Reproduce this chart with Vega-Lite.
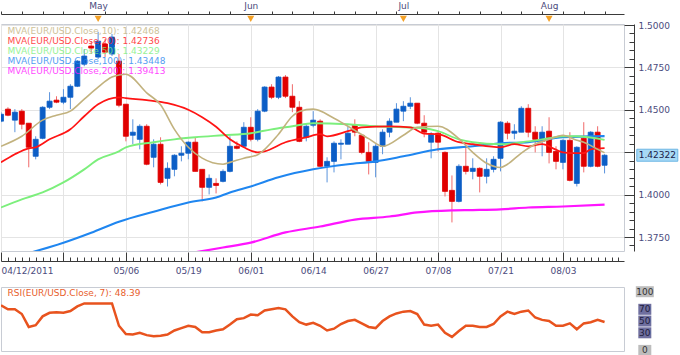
{
  "$schema": "https://vega.github.io/schema/vega-lite/v6.json",
  "padding": 0,
  "background": "white",
  "spacing": 4,
  "resolve": {"scale": {"y": "independent"}},
  "config": {
    "view": {"stroke": "#c8ccd4"},
    "font": "DejaVu Sans",
    "scale": {"continuousPadding": 0},
    "axis": {"labelFont": "DejaVu Sans", "labelFontSize": 9, "labelColor": "#4b4b7d", "domainColor": "#3a3a3a", "tickColor": "#3a3a3a", "gridColor": "#e4e4e4"}
  },
  "datasets": {
    "candles": [
      {"i":0,"o":1.4433,"h":1.4486,"l":1.4427,"c":1.4474},
      {"i":1,"o":1.4504,"h":1.4515,"l":1.4462,"c":1.4468},
      {"i":2,"o":1.4439,"h":1.4504,"l":1.4368,"c":1.4486},
      {"i":3,"o":1.4492,"h":1.4504,"l":1.4385,"c":1.4415},
      {"i":4,"o":1.4421,"h":1.4421,"l":1.4161,"c":1.4279},
      {"i":5,"o":1.4226,"h":1.4344,"l":1.4208,"c":1.4326},
      {"i":6,"o":1.4332,"h":1.4521,"l":1.4326,"c":1.4515},
      {"i":7,"o":1.4515,"h":1.4604,"l":1.4504,"c":1.4551},
      {"i":8,"o":1.4557,"h":1.4580,"l":1.4539,"c":1.4545},
      {"i":9,"o":1.4545,"h":1.4622,"l":1.4533,"c":1.4574},
      {"i":10,"o":1.4574,"h":1.4651,"l":1.4504,"c":1.4639},
      {"i":11,"o":1.4639,"h":1.4793,"l":1.4634,"c":1.4787},
      {"i":12,"o":1.4769,"h":1.4858,"l":1.4757,"c":1.4817},
      {"i":13,"o":1.4876,"h":1.4905,"l":1.4829,"c":1.4864},
      {"i":14,"o":1.4811,"h":1.4959,"l":1.4799,"c":1.4905},
      {"i":15,"o":1.4888,"h":1.4917,"l":1.4811,"c":1.4840},
      {"i":16,"o":1.4829,"h":1.4947,"l":1.4817,"c":1.4929},
      {"i":17,"o":1.4787,"h":1.4829,"l":1.4515,"c":1.4527},
      {"i":18,"o":1.4533,"h":1.4533,"l":1.4314,"c":1.4344},
      {"i":19,"o":1.4350,"h":1.4444,"l":1.4297,"c":1.4368},
      {"i":20,"o":1.4326,"h":1.4415,"l":1.4267,"c":1.4403},
      {"i":21,"o":1.4403,"h":1.4415,"l":1.4173,"c":1.4179},
      {"i":22,"o":1.4220,"h":1.4326,"l":1.4161,"c":1.4297},
      {"i":23,"o":1.4297,"h":1.4338,"l":1.4060,"c":1.4072},
      {"i":24,"o":1.4096,"h":1.4190,"l":1.4048,"c":1.4155},
      {"i":25,"o":1.4149,"h":1.4238,"l":1.4108,"c":1.4232},
      {"i":26,"o":1.4232,"h":1.4285,"l":1.4196,"c":1.4244},
      {"i":27,"o":1.4244,"h":1.4314,"l":1.4208,"c":1.4309},
      {"i":28,"o":1.4309,"h":1.4338,"l":1.4137,"c":1.4137},
      {"i":29,"o":1.4149,"h":1.4149,"l":1.3960,"c":1.4043},
      {"i":30,"o":1.4043,"h":1.4119,"l":1.4001,"c":1.4096},
      {"i":31,"o":1.4066,"h":1.4096,"l":1.4007,"c":1.4054},
      {"i":32,"o":1.4078,"h":1.4149,"l":1.4072,"c":1.4137},
      {"i":33,"o":1.4137,"h":1.4344,"l":1.4131,"c":1.4285},
      {"i":34,"o":1.4285,"h":1.4314,"l":1.4267,"c":1.4273},
      {"i":35,"o":1.4285,"h":1.4427,"l":1.4279,"c":1.4397},
      {"i":36,"o":1.4397,"h":1.4456,"l":1.4314,"c":1.4326},
      {"i":37,"o":1.4326,"h":1.4504,"l":1.4314,"c":1.4492},
      {"i":38,"o":1.4492,"h":1.4639,"l":1.4486,"c":1.4634},
      {"i":39,"o":1.4634,"h":1.4651,"l":1.4563,"c":1.4574},
      {"i":40,"o":1.4574,"h":1.4699,"l":1.4563,"c":1.4693},
      {"i":41,"o":1.4693,"h":1.4705,"l":1.4569,"c":1.4580},
      {"i":42,"o":1.4580,"h":1.4651,"l":1.4486,"c":1.4515},
      {"i":43,"o":1.4515,"h":1.4551,"l":1.4309,"c":1.4314},
      {"i":44,"o":1.4338,"h":1.4421,"l":1.4314,"c":1.4403},
      {"i":45,"o":1.4409,"h":1.4492,"l":1.4397,"c":1.4439},
      {"i":46,"o":1.4433,"h":1.4444,"l":1.4161,"c":1.4167},
      {"i":47,"o":1.4167,"h":1.4220,"l":1.4072,"c":1.4196},
      {"i":48,"o":1.4196,"h":1.4314,"l":1.4131,"c":1.4303},
      {"i":49,"o":1.4297,"h":1.4326,"l":1.4208,"c":1.4303},
      {"i":50,"o":1.4297,"h":1.4403,"l":1.4297,"c":1.4362},
      {"i":51,"o":1.4409,"h":1.4444,"l":1.4344,"c":1.4368},
      {"i":52,"o":1.4350,"h":1.4350,"l":1.4238,"c":1.4249},
      {"i":53,"o":1.4249,"h":1.4309,"l":1.4119,"c":1.4196},
      {"i":54,"o":1.4190,"h":1.4297,"l":1.4102,"c":1.4285},
      {"i":55,"o":1.4285,"h":1.4385,"l":1.4238,"c":1.4368},
      {"i":56,"o":1.4368,"h":1.4450,"l":1.4338,"c":1.4433},
      {"i":57,"o":1.4427,"h":1.4539,"l":1.4427,"c":1.4504},
      {"i":58,"o":1.4492,"h":1.4551,"l":1.4433,"c":1.4521},
      {"i":59,"o":1.4521,"h":1.4574,"l":1.4504,"c":1.4539},
      {"i":60,"o":1.4539,"h":1.4539,"l":1.4415,"c":1.4421},
      {"i":61,"o":1.4421,"h":1.4468,"l":1.4338,"c":1.4368},
      {"i":62,"o":1.4309,"h":1.4368,"l":1.4214,"c":1.4356},
      {"i":63,"o":1.4362,"h":1.4368,"l":1.4255,"c":1.4309},
      {"i":64,"o":1.4249,"h":1.4255,"l":1.3989,"c":1.4019},
      {"i":65,"o":1.4025,"h":1.4113,"l":1.3836,"c":1.3960},
      {"i":66,"o":1.3960,"h":1.4179,"l":1.3954,"c":1.4167},
      {"i":67,"o":1.4167,"h":1.4279,"l":1.4119,"c":1.4137},
      {"i":68,"o":1.4137,"h":1.4214,"l":1.4090,"c":1.4155},
      {"i":69,"o":1.4155,"h":1.4161,"l":1.4013,"c":1.4108},
      {"i":70,"o":1.4108,"h":1.4214,"l":1.4066,"c":1.4149},
      {"i":71,"o":1.4149,"h":1.4226,"l":1.4131,"c":1.4208},
      {"i":72,"o":1.4214,"h":1.4433,"l":1.4137,"c":1.4427},
      {"i":73,"o":1.4421,"h":1.4433,"l":1.4326,"c":1.4362},
      {"i":74,"o":1.4362,"h":1.4415,"l":1.4326,"c":1.4374},
      {"i":75,"o":1.4368,"h":1.4521,"l":1.4368,"c":1.4509},
      {"i":76,"o":1.4509,"h":1.4533,"l":1.4338,"c":1.4368},
      {"i":77,"o":1.4368,"h":1.4403,"l":1.4249,"c":1.4326},
      {"i":78,"o":1.4314,"h":1.4403,"l":1.4226,"c":1.4368},
      {"i":79,"o":1.4374,"h":1.4456,"l":1.4184,"c":1.4249},
      {"i":80,"o":1.4255,"h":1.4285,"l":1.4149,"c":1.4196},
      {"i":81,"o":1.4190,"h":1.4326,"l":1.4149,"c":1.4320},
      {"i":82,"o":1.4320,"h":1.4368,"l":1.4078,"c":1.4084},
      {"i":83,"o":1.4066,"h":1.4285,"l":1.4048,"c":1.4279},
      {"i":84,"o":1.4332,"h":1.4427,"l":1.4131,"c":1.4167},
      {"i":85,"o":1.4167,"h":1.4374,"l":1.4161,"c":1.4368},
      {"i":86,"o":1.4368,"h":1.4403,"l":1.4161,"c":1.4167},
      {"i":87,"o":1.4173,"h":1.4238,"l":1.4125,"c":1.42322}
    ],
    "ma": [
      {"s":"MA200","i":28,"v":1.3660},{"s":"MA200","i":32,"v":1.3688},{"s":"MA200","i":36,"v":1.3717},{"s":"MA200","i":41,"v":1.3777},{"s":"MA200","i":46,"v":1.3812},{"s":"MA200","i":51,"v":1.3853},{"s":"MA200","i":56,"v":1.3871},{"s":"MA200","i":60,"v":1.3895},{"s":"MA200","i":65,"v":1.3907},{"s":"MA200","i":68,"v":1.3909},{"s":"MA200","i":72,"v":1.3913},{"s":"MA200","i":76,"v":1.3924},{"s":"MA200","i":81,"v":1.3930},{"s":"MA200","i":87,"v":1.39413},
      {"s":"MA100","i":4,"v":1.3655},{"s":"MA100","i":9,"v":1.3716},{"s":"MA100","i":13,"v":1.3775},{"s":"MA100","i":17,"v":1.3840},{"s":"MA100","i":22,"v":1.3899},{"s":"MA100","i":27,"v":1.3954},{"s":"MA100","i":31,"v":1.3983},{"s":"MA100","i":33,"v":1.4013},{"s":"MA100","i":36,"v":1.4048},{"s":"MA100","i":40,"v":1.4102},{"s":"MA100","i":45,"v":1.4149},{"s":"MA100","i":50,"v":1.4179},{"s":"MA100","i":54,"v":1.4196},{"s":"MA100","i":58,"v":1.4226},{"s":"MA100","i":63,"v":1.4267},{"s":"MA100","i":68,"v":1.4285},{"s":"MA100","i":72,"v":1.4303},{"s":"MA100","i":76,"v":1.4309},{"s":"MA100","i":81,"v":1.4338},{"s":"MA100","i":87,"v":1.43448},
      {"s":"MA50","i":0,"v":1.3924},{"s":"MA50","i":3,"v":1.3972},{"s":"MA50","i":6,"v":1.4013},{"s":"MA50","i":9,"v":1.4072},{"s":"MA50","i":12,"v":1.4149},{"s":"MA50","i":14,"v":1.4208},{"s":"MA50","i":17,"v":1.4255},{"s":"MA50","i":18,"v":1.4279},{"s":"MA50","i":22,"v":1.4309},{"s":"MA50","i":25,"v":1.4326},{"s":"MA50","i":28,"v":1.4338},{"s":"MA50","i":32,"v":1.4350},{"s":"MA50","i":36,"v":1.4362},{"s":"MA50","i":39,"v":1.4385},{"s":"MA50","i":42,"v":1.4403},{"s":"MA50","i":45,"v":1.4421},{"s":"MA50","i":50,"v":1.4415},{"s":"MA50","i":54,"v":1.4403},{"s":"MA50","i":58,"v":1.4397},{"s":"MA50","i":61,"v":1.4391},{"s":"MA50","i":63,"v":1.4374},{"s":"MA50","i":66,"v":1.4326},{"s":"MA50","i":68,"v":1.4309},{"s":"MA50","i":72,"v":1.4297},{"s":"MA50","i":76,"v":1.4314},{"s":"MA50","i":79,"v":1.4332},{"s":"MA50","i":81,"v":1.4344},{"s":"MA50","i":83,"v":1.4344},{"s":"MA50","i":87,"v":1.43229},
      {"s":"MA20","i":0,"v":1.4190},{"s":"MA20","i":2,"v":1.4238},{"s":"MA20","i":4,"v":1.4273},{"s":"MA20","i":5,"v":1.4279},{"s":"MA20","i":7,"v":1.4326},{"s":"MA20","i":10,"v":1.4385},{"s":"MA20","i":12,"v":1.4462},{"s":"MA20","i":14,"v":1.4533},{"s":"MA20","i":17,"v":1.4574},{"s":"MA20","i":18,"v":1.4569},{"s":"MA20","i":21,"v":1.4557},{"s":"MA20","i":24,"v":1.4539},{"s":"MA20","i":27,"v":1.4500},{"s":"MA20","i":29,"v":1.4456},{"s":"MA20","i":31,"v":1.4400},{"s":"MA20","i":33,"v":1.4326},{"s":"MA20","i":35,"v":1.4279},{"s":"MA20","i":37,"v":1.4249},{"s":"MA20","i":38,"v":1.4255},{"s":"MA20","i":41,"v":1.4309},{"s":"MA20","i":44,"v":1.4338},{"s":"MA20","i":46,"v":1.4356},{"s":"MA20","i":47,"v":1.4344},{"s":"MA20","i":50,"v":1.4374},{"s":"MA20","i":52,"v":1.4397},{"s":"MA20","i":56,"v":1.4403},{"s":"MA20","i":59,"v":1.4397},{"s":"MA20","i":61,"v":1.4360},{"s":"MA20","i":63,"v":1.4356},{"s":"MA20","i":66,"v":1.4309},{"s":"MA20","i":68,"v":1.4297},{"s":"MA20","i":72,"v":1.4279},{"s":"MA20","i":74,"v":1.4297},{"s":"MA20","i":76,"v":1.4285},{"s":"MA20","i":78,"v":1.4297},{"s":"MA20","i":80,"v":1.4265},{"s":"MA20","i":81,"v":1.4249},{"s":"MA20","i":83,"v":1.4244},{"s":"MA20","i":84,"v":1.4244},{"s":"MA20","i":85,"v":1.4267},{"s":"MA20","i":87,"v":1.42736},
      {"s":"MA10","i":0,"v":1.4285},{"s":"MA10","i":3,"v":1.4344},{"s":"MA10","i":6,"v":1.4439},{"s":"MA10","i":8,"v":1.4468},{"s":"MA10","i":10,"v":1.4492},{"s":"MA10","i":12,"v":1.4563},{"s":"MA10","i":14,"v":1.4634},{"s":"MA10","i":16,"v":1.4693},{"s":"MA10","i":17,"v":1.4705},{"s":"MA10","i":18,"v":1.4710},{"s":"MA10","i":21,"v":1.4600},{"s":"MA10","i":23,"v":1.4530},{"s":"MA10","i":25,"v":1.4385},{"s":"MA10","i":27,"v":1.4279},{"s":"MA10","i":29,"v":1.4215},{"s":"MA10","i":32,"v":1.4179},{"s":"MA10","i":33,"v":1.4190},{"s":"MA10","i":35,"v":1.4215},{"s":"MA10","i":37,"v":1.4235},{"s":"MA10","i":40,"v":1.4356},{"s":"MA10","i":42,"v":1.4462},{"s":"MA10","i":43,"v":1.4490},{"s":"MA10","i":45,"v":1.4504},{"s":"MA10","i":48,"v":1.4450},{"s":"MA10","i":50,"v":1.4403},{"s":"MA10","i":53,"v":1.4330},{"s":"MA10","i":55,"v":1.4285},{"s":"MA10","i":58,"v":1.4350},{"s":"MA10","i":60,"v":1.4397},{"s":"MA10","i":63,"v":1.4403},{"s":"MA10","i":66,"v":1.4330},{"s":"MA10","i":68,"v":1.4249},{"s":"MA10","i":70,"v":1.4185},{"s":"MA10","i":72,"v":1.4160},{"s":"MA10","i":73,"v":1.4179},{"s":"MA10","i":75,"v":1.4245},{"s":"MA10","i":77,"v":1.4297},{"s":"MA10","i":79,"v":1.4326},{"s":"MA10","i":81,"v":1.4350},{"s":"MA10","i":83,"v":1.4320},{"s":"MA10","i":84,"v":1.4309},{"s":"MA10","i":86,"v":1.4267},{"s":"MA10","i":87,"v":1.42468}
    ],
    "rsi": [
      {"i":0,"r":77},{"i":1,"r":70},{"i":2,"r":70},{"i":3,"r":62},{"i":4,"r":40},{"i":5,"r":43},{"i":6,"r":58},{"i":7,"r":64},{"i":8,"r":65},{"i":9,"r":64},
      {"i":10,"r":67},{"i":11,"r":75},{"i":12,"r":80},{"i":13,"r":80},{"i":14,"r":80},{"i":15,"r":80},{"i":16,"r":80},{"i":17,"r":42},{"i":18,"r":28},{"i":19,"r":27},
      {"i":20,"r":30},{"i":21,"r":26},{"i":22,"r":24},{"i":23,"r":25},{"i":24,"r":27},{"i":25,"r":34},{"i":26,"r":38},{"i":27,"r":42},{"i":28,"r":40},{"i":29,"r":31},
      {"i":30,"r":31},{"i":31,"r":34},{"i":32,"r":36},{"i":33,"r":44},{"i":34,"r":53},{"i":35,"r":55},{"i":36,"r":61},{"i":37,"r":60},{"i":38,"r":68},{"i":39,"r":70},
      {"i":40,"r":72},{"i":41,"r":70},{"i":42,"r":58},{"i":43,"r":48},{"i":44,"r":44},{"i":45,"r":47},{"i":46,"r":42},{"i":47,"r":34},{"i":48,"r":37},{"i":49,"r":45},
      {"i":50,"r":50},{"i":51,"r":52},{"i":52,"r":46},{"i":53,"r":40},{"i":54,"r":38},{"i":55,"r":50},{"i":56,"r":58},{"i":57,"r":63},{"i":58,"r":66},{"i":59,"r":67},
      {"i":60,"r":62},{"i":61,"r":44},{"i":62,"r":42},{"i":63,"r":44},{"i":64,"r":30},{"i":65,"r":23},{"i":66,"r":33},{"i":67,"r":42},{"i":68,"r":42},{"i":69,"r":40},
      {"i":70,"r":40},{"i":71,"r":45},{"i":72,"r":58},{"i":73,"r":66},{"i":74,"r":62},{"i":75,"r":66},{"i":76,"r":68},{"i":77,"r":56},{"i":78,"r":52},{"i":79,"r":50},
      {"i":80,"r":42},{"i":81,"r":42},{"i":82,"r":46},{"i":83,"r":36},{"i":84,"r":46},{"i":85,"r":48},{"i":86,"r":52},{"i":87,"r":48.39}
    ],
    "legend": [
      {"row":0,"s":"MA10","label":"MVA(EUR/USD.Close,10): 1.42468"},
      {"row":1,"s":"MA20","label":"MVA(EUR/USD.Close,20): 1.42736"},
      {"row":2,"s":"MA50","label":"MVA(EUR/USD.Close,50): 1.43229"},
      {"row":3,"s":"MA100","label":"MVA(EUR/USD.Close,100): 1.43448"},
      {"row":4,"s":"MA200","label":"MVA(EUR/USD.Close,200): 1.39413"}
    ],
    "months": [{"i":14,"m":"May"},{"i":36,"m":"Jun"},{"i":58,"m":"Jul"},{"i":79,"m":"Aug"}],
    "levels": [{"v":100},{"v":70},{"v":50},{"v":30},{"v":0}],
    "rsilabel": [{"label":"RSI(EUR/USD.Close, 7): 48.39"}]
  },
  "vconcat": [
    {
      "width": 623,
      "height": 227,
      "resolve": {"scale": {"y": "independent"}, "axis": {"x": "independent", "y": "independent"}},
      "layer": [
        {
          "data": {"name": "candles"},
          "mark": {"type": "rule", "strokeWidth": 1, "clip": true},
          "encoding": {
            "x": {"field": "i", "type": "quantitative", "title": null,
              "scale": {"domain": [0, 89.8], "nice": false, "zero": false, "padding": 0},
              "axis": {
                "orient": "bottom", "offset": 10, "title": null,
                "values": [0,1,2,3,4,5,6,7,8,9,10,11,12,13,14,15,16,17,18,19,20,21,22,23,24,25,26,27,28,29,30,31,32,33,34,35,36,37,38,39,40,41,42,43,44,45,46,47,48,49,50,51,52,53,54,55,56,57,58,59,60,61,62,63,64,65,66,67,68,69,70,71,72,73,74,75,76,77,78,79,80,81,82,83,84,85,86,87,88,89],
                "tickSize": {"condition": {"test": "datum.value % 9 === 0", "value": -9}, "value": -4},
                "labelPadding": 14,
                "labelAlign": {"condition": {"test": "datum.value === 0", "value": "left"}, "value": "center"},
                "labelOverlap": false,
                "labelExpr": "datum.value===0?'04/12/2011':datum.value===18?'05/06':datum.value===27?'05/19':datum.value===36?'06/01':datum.value===45?'06/14':datum.value===54?'06/27':datum.value===63?'07/08':datum.value===72?'07/21':datum.value===81?'08/03':''",
                "grid": true,
                "gridOpacity": {"condition": {"test": "datum.value % 9 === 0", "value": 1}, "value": 0}
              }},
            "y": {"field": "l", "type": "quantitative", "title": null,
              "scale": {"domain": [1.36675, 1.5006], "nice": false, "zero": false, "padding": 0},
              "axis": {
                "orient": "right", "offset": 10, "title": null,
                "values": [1.37,1.375,1.38,1.385,1.39,1.395,1.4,1.405,1.41,1.415,1.42,1.425,1.43,1.435,1.44,1.445,1.45,1.455,1.46,1.465,1.47,1.475,1.48,1.485,1.49,1.495,1.5],
                "tickSize": {"condition": {"test": "abs(datum.value*40-round(datum.value*40))<0.01", "value": -10}, "value": -5},
                "labelPadding": 14,
                "labelOverlap": false,
                "labelExpr": "abs(datum.value*40-round(datum.value*40))<0.01 && abs(datum.value-1.425)>0.001 ? format(datum.value,'.4f') : ''",
                "grid": true,
                "gridOpacity": {"condition": {"test": "abs(datum.value*40-round(datum.value*40))<0.01", "value": 1}, "value": 0}
              }},
            "y2": {"field": "h"},
            "color": {"condition": {"test": "datum.c >= datum.o", "value": "#5a93dc"}, "value": "#f06a6a"}
          }
        },
        {
          "data": {"name": "candles"},
          "mark": {"type": "bar", "width": 5, "clip": true, "strokeWidth": 0.8},
          "encoding": {
            "x": {"field": "i", "type": "quantitative", "axis": null},
            "y": {"field": "o", "type": "quantitative", "title": null, "scale": {"domain": [1.36675, 1.5006], "nice": false, "zero": false, "padding": 0}, "axis": null},
            "y2": {"field": "c"},
            "color": {"condition": {"test": "datum.c >= datum.o", "value": "#0c5ec6"}, "value": "#e00000"},
            "stroke": {"condition": {"test": "datum.c >= datum.o", "value": "#0c5ec6"}, "value": "#e00000"}
          }
        },
        {
          "data": {"name": "ma"},
          "mark": {"type": "line", "clip": true, "interpolate": "monotone"},
          "encoding": {
            "x": {"field": "i", "type": "quantitative", "axis": null},
            "y": {"field": "v", "type": "quantitative", "title": null, "scale": {"domain": [1.36675, 1.5006], "nice": false, "zero": false, "padding": 0}, "axis": null},
            "color": {"field": "s", "type": "nominal", "scale": {"domain": ["MA10","MA20","MA50","MA100","MA200"], "range": ["#c2b27e","#ff1414","#7cef7c","#1f86f0","#ff14ff"]}, "legend": null},
            "strokeWidth": {"field": "s", "type": "ordinal", "scale": {"domain": ["MA10","MA20","MA50","MA100","MA200"], "range": [1.6, 2.2, 2.2, 2.2, 2.2]}, "legend": null}
          }
        },
        {
          "data": {"name": "legend"},
          "mark": {"type": "text", "align": "left", "baseline": "middle", "font": "DejaVu Sans", "fontSize": 9, "opacity": 0.8},
          "encoding": {
            "x": {"datum": 0.95, "type": "quantitative", "axis": null},
            "y": {"field": "row", "type": "quantitative", "title": null, "scale": {"domain": [-0.7, 22.0], "reverse": true, "nice": false, "zero": false, "padding": 0}, "axis": null},
            "text": {"field": "label"},
            "color": {"field": "s", "type": "nominal", "legend": null}
          }
        },
        {
          "data": {"name": "months"},
          "mark": {"type": "point", "shape": "triangle-down", "filled": true, "size": 50, "opacity": 1, "clip": false},
          "encoding": {
            "x": {"field": "i", "type": "quantitative", "title": null,
              "axis": {
                "orient": "top", "offset": 10, "title": null,
                "values": [0,3,6,9,12,14,15,18,21,24,27,30,33,36,39,42,45,48,51,54,57,58,60,63,66,69,72,75,78,79,81,84,87],
                "tickSize": 3,
                "labelPadding": 1,
                "labelOverlap": false,
                "labelExpr": "datum.value===14?'May':datum.value===36?'Jun':datum.value===58?'Jul':datum.value===79?'Aug':''",
                "tickOpacity": {"condition": {"test": "datum.value===14||datum.value===36||datum.value===58||datum.value===79", "value": 0}, "value": 1},
                "grid": false
              }},
            "y": {"datum": 1.5036, "type": "quantitative", "scale": {"domain": [1.36675, 1.5006], "nice": false, "zero": false, "padding": 0}, "axis": null},
            "color": {"value": "#f4a126"}
          }
        },
        {
          "data": {"name": "candles"},
          "transform": [{"filter": "datum.i == 87"}],
          "mark": {"type": "tick", "orient": "horizontal", "size": 41, "thickness": 12, "clip": false, "color": "#a7d9f5", "stroke": "#6cb6e4", "strokeWidth": 1, "opacity": 1},
          "encoding": {
            "x": {"datum": 94.6, "type": "quantitative", "axis": null},
            "y": {"field": "c", "type": "quantitative", "title": null, "scale": {"domain": [1.36675, 1.5006], "nice": false, "zero": false, "padding": 0}, "axis": null}
          }
        },
        {
          "data": {"name": "candles"},
          "transform": [{"filter": "datum.i == 87"}],
          "mark": {"type": "text", "align": "center", "baseline": "middle", "font": "DejaVu Sans", "fontSize": 9, "color": "#1a1a48"},
          "encoding": {
            "x": {"datum": 94.6, "type": "quantitative", "axis": null},
            "y": {"field": "c", "type": "quantitative", "title": null, "scale": {"domain": [1.36675, 1.5006], "nice": false, "zero": false, "padding": 0}, "axis": null},
            "text": {"field": "c", "format": ".5f"}
          }
        }
      ]
    },
    {
      "width": 623,
      "height": 64,
      "layer": [
        {
          "data": {"name": "rsi"},
          "mark": {"type": "line", "color": "#e8531e", "strokeWidth": 2.5, "clip": true},
          "encoding": {
            "x": {"field": "i", "type": "quantitative", "title": null,
              "scale": {"domain": [0, 89.8], "nice": false, "zero": false, "padding": 0},
              "axis": {"orient": "bottom", "values": [0,9,18,27,36,45,54,63,72,81], "grid": true, "gridColor": "#e6e6e6", "labels": false, "ticks": false, "domain": true, "offset": 3, "title": null}},
            "y": {"field": "r", "type": "quantitative", "title": null,
              "scale": {"domain": [-1, 108], "nice": false, "zero": false, "padding": 0},
              "axis": {
                "orient": "right", "offset": 10, "title": null,
                "values": [0,10,20,30,40,50,60,70,80,90,100],
                "tickSize": {"condition": {"test": "datum.value===0||datum.value===30||datum.value===50||datum.value===70||datum.value===100", "value": -8}, "value": -4},
                "labels": false,
                "grid": true,
                "gridColor": "#76769e",
                "gridOpacity": {"condition": {"test": "datum.value===30||datum.value===50||datum.value===70", "value": 1}, "value": 0}
              }}
          }
        },
        {
          "data": {"name": "levels"},
          "mark": {"type": "tick", "orient": "horizontal", "thickness": 11, "clip": false, "opacity": 1},
          "encoding": {
            "x": {"datum": 92.8, "type": "quantitative", "axis": null},
            "y": {"field": "v", "type": "quantitative", "axis": null},
            "size": {"condition": {"test": "datum.v === 100", "value": 18}, "value": 13},
            "color": {"condition": {"test": "datum.v === 100 || datum.v === 0", "value": "#bdbdbd"}, "value": "#6f6f9f"}
          }
        },
        {
          "data": {"name": "levels"},
          "mark": {"type": "text", "align": "center", "baseline": "middle", "font": "DejaVu Sans", "fontSize": 9},
          "encoding": {
            "x": {"datum": 92.8, "type": "quantitative", "axis": null},
            "y": {"field": "v", "type": "quantitative", "axis": null},
            "text": {"field": "v"},
            "color": {"condition": {"test": "datum.v === 100 || datum.v === 0", "value": "#333333"}, "value": "#20203c"}
          }
        },
        {
          "data": {"name": "rsilabel"},
          "mark": {"type": "text", "align": "left", "baseline": "middle", "font": "DejaVu Sans", "fontSize": 9, "color": "#e8602c"},
          "encoding": {
            "x": {"datum": 0.95, "type": "quantitative", "axis": null},
            "y": {"datum": 97.5, "type": "quantitative", "axis": null},
            "text": {"field": "label"}
          }
        }
      ]
    }
  ]
}
